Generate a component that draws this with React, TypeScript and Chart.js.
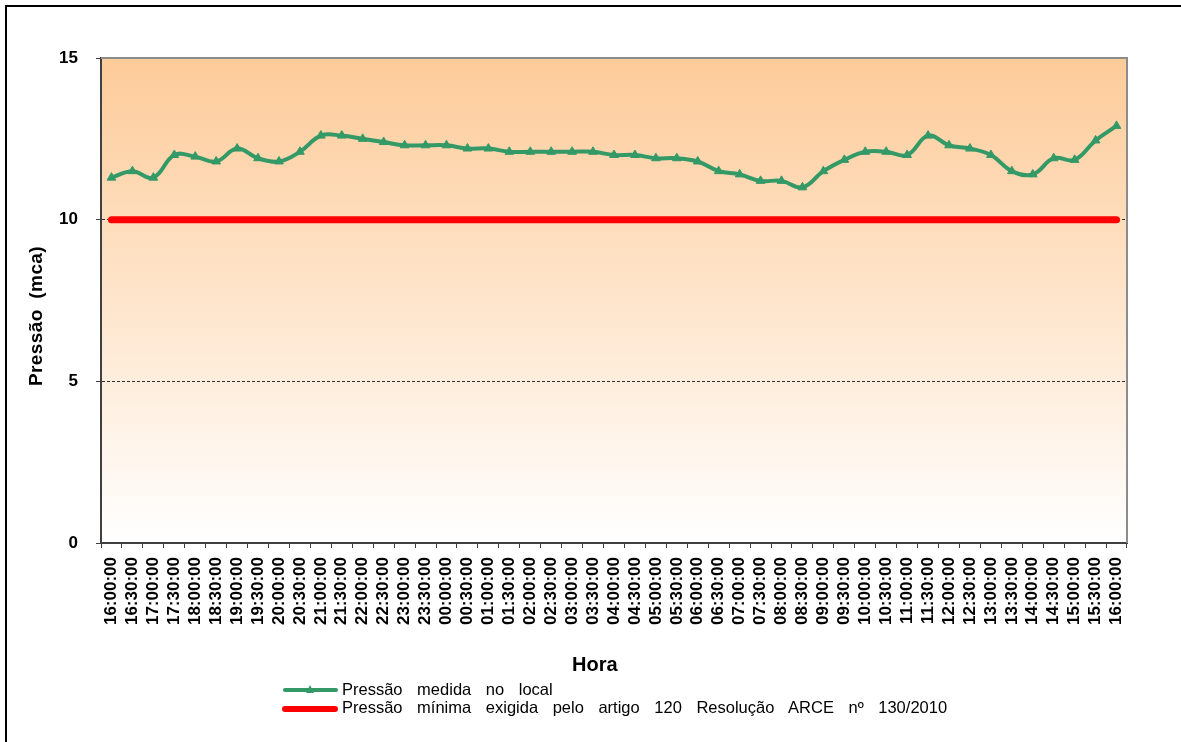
import React, { useEffect, useRef } from "react";
import { Chart, registerables } from "chart.js";

Chart.register(...registerables);

const hourLabels = [
  "16:00:00", "16:30:00", "17:00:00", "17:30:00", "18:00:00", "18:30:00", "19:00:00", "19:30:00",
  "20:00:00", "20:30:00", "21:00:00", "21:30:00", "22:00:00", "22:30:00", "23:00:00", "23:30:00",
  "00:00:00", "00:30:00", "01:00:00", "01:30:00", "02:00:00", "02:30:00", "03:00:00", "03:30:00",
  "04:00:00", "04:30:00", "05:00:00", "05:30:00", "06:00:00", "06:30:00", "07:00:00", "07:30:00",
  "08:00:00", "08:30:00", "09:00:00", "09:30:00", "10:00:00", "10:30:00", "11:00:00", "11:30:00",
  "12:00:00", "12:30:00", "13:00:00", "13:30:00", "14:00:00", "14:30:00", "15:00:00", "15:30:00",
  "16:00:00",
];

const measuredPressure = [
  11.3, 11.5, 11.3, 12.0, 11.95, 11.8, 12.2, 11.9,
  11.8, 12.1, 12.6, 12.6, 12.5, 12.4, 12.3, 12.3,
  12.3, 12.2, 12.2, 12.1, 12.1, 12.1, 12.1, 12.1,
  12.0, 12.0, 11.9, 11.9, 11.8, 11.5, 11.4, 11.2,
  11.2, 11.0, 11.5, 11.85, 12.1, 12.1, 12.0, 12.6,
  12.3, 12.2, 12.0, 11.5, 11.4, 11.9, 11.85, 12.45,
  12.9,
];

const minimumPressure = [
  10, 10, 10, 10, 10, 10, 10, 10,
  10, 10, 10, 10, 10, 10, 10, 10,
  10, 10, 10, 10, 10, 10, 10, 10,
  10, 10, 10, 10, 10, 10, 10, 10,
  10, 10, 10, 10, 10, 10, 10, 10,
  10, 10, 10, 10, 10, 10, 10, 10,
  10,
];

const yTicks = [0, 5, 10, 15];

const measuredLabel = "Pressão medida no local";
const minimumLabel = "Pressão mínima exigida pelo artigo 120 Resolução ARCE nº 130/2010";
const xTitle = "Hora";
const yTitle = "Pressão (mca)";

const FONT = "'Liberation Sans', Arial, sans-serif";

const plotBgPlugin = {
  id: "plotBg",
  beforeDraw(chart: any) {
    const { ctx, chartArea } = chart;
    const { left, top, right, bottom } = chartArea;
    const g = ctx.createLinearGradient(0, top, 0, bottom);
    g.addColorStop(0, "#FDCB99");
    g.addColorStop(1, "#FFFFFF");
    ctx.save();
    ctx.fillStyle = g;
    ctx.fillRect(left, top, right - left, bottom - top);
    ctx.restore();
  },
  beforeDatasetsDraw(chart: any) {
    const { ctx, chartArea } = chart;
    const { left, top, right, bottom } = chartArea;
    ctx.save();
    ctx.strokeStyle = "#8C8C8C";
    ctx.lineWidth = 2;
    ctx.beginPath();
    ctx.moveTo(left, top);
    ctx.lineTo(right, top);
    ctx.lineTo(right, bottom);
    ctx.stroke();
    ctx.restore();
  },
};

export default function App() {
  const canvasRef = useRef<HTMLCanvasElement | null>(null);

  useEffect(() => {
    if (!canvasRef.current) return;
    const chart = new Chart(canvasRef.current, {
      type: "line",
      data: {
        labels: hourLabels,
        datasets: [
          {
            label: minimumLabel,
            data: minimumPressure,
            borderColor: "#FF0000",
            backgroundColor: "#FF0000",
            borderWidth: 7,
            borderCapStyle: "round",
            pointRadius: 0,
            pointHoverRadius: 0,
            tension: 0,
          },
          {
            label: measuredLabel,
            data: measuredPressure,
            borderColor: "#339966",
            backgroundColor: "#339966",
            borderWidth: 4,
            tension: 0.4,
            pointStyle: "triangle",
            pointRadius: 5,
            pointBorderWidth: 1,
            pointBorderColor: "#339966",
            pointBackgroundColor: "#339966",
          },
        ],
      },
      options: {
        animation: false,
        responsive: false,
        maintainAspectRatio: false,
        layout: { padding: { top: 58, right: 54, left: 0, bottom: 0 } },
        plugins: {
          legend: { display: false },
          tooltip: { enabled: false },
        },
        scales: {
          x: {
            type: "category",
            offset: true,
            grid: {
              offset: true,
              drawOnChartArea: false,
              drawTicks: true,
              tickLength: 5,
              color: "#404040",
              tickColor: "#404040",
            },
            border: { color: "#404040", width: 2 },
            ticks: {
              autoSkip: false,
              maxRotation: 90,
              minRotation: 90,
              padding: 9,
              color: "#000000",
              font: { family: FONT, size: 17, weight: "bold" },
            },
            afterFit: (s: any) => {
              s.height = 199;
            },
          },
          y: {
            min: 0,
            max: 15,
            afterBuildTicks: (s: any) => {
              s.ticks = yTicks.map((v) => ({ value: v }));
            },
            ticks: {
              padding: 18,
              color: "#000000",
              font: { family: FONT, size: 17, weight: "bold" },
            },
            grid: {
              color: (c: any) =>
                c.tick && (c.tick.value === 5 || c.tick.value === 10) ? "#303030" : "rgba(0,0,0,0)",
              tickColor: "#404040",
              tickLength: 5,
              lineWidth: 1,
            },
            border: { color: "#404040", width: 2, dash: [3, 2] },
            afterFit: (s: any) => {
              s.width = 101;
            },
          },
        },
      },
      plugins: [plotBgPlugin],
    });
    return () => chart.destroy();
  }, []);

  const textBase: React.CSSProperties = {
    position: "absolute",
    fontFamily: FONT,
    color: "#000",
    whiteSpace: "nowrap",
    margin: 0,
  };

  return (
    <div
      style={{
        position: "absolute",
        left: 0,
        top: 0,
        width: 1181,
        height: 742,
        background: "#FFFFFF",
        overflow: "hidden",
      }}
    >
      <canvas
        ref={canvasRef}
        width={1181}
        height={742}
        style={{ position: "absolute", left: 0, top: 0, width: 1181, height: 742, display: "block" }}
      />
      {/* outer frame (left and top edges) */}
      <div style={{ position: "absolute", left: 5, top: 5, width: 2, height: 737, background: "#000" }} />
      <div style={{ position: "absolute", left: 5, top: 5, width: 1176, height: 2, background: "#000" }} />

      {/* axis titles */}
      <div
        style={{
          ...textBase,
          left: 35.5 - 100,
          top: 316 - 10,
          width: 200,
          height: 20,
          lineHeight: "20px",
          textAlign: "center",
          fontSize: 19,
          fontWeight: "bold",
          wordSpacing: 5,
          letterSpacing: 0.4,
          transform: "rotate(-90deg)",
          transformOrigin: "50% 50%",
        }}
      >
        {yTitle}
      </div>
      <div
        style={{
          ...textBase,
          left: 572,
          top: 654,
          lineHeight: "20px",
          fontSize: 20,
          fontWeight: "bold",
        }}
      >
        {xTitle}
      </div>

      {/* legend */}
      <div style={{ position: "absolute", left: 283, top: 688, width: 55, height: 4, background: "#339966", borderRadius: 2 }} />
      <div
        style={{
          position: "absolute",
          left: 305.5,
          top: 685,
          width: 0,
          height: 0,
          borderLeft: "4.5px solid transparent",
          borderRight: "4.5px solid transparent",
          borderBottom: "8px solid #339966",
        }}
      />
      <div style={{ position: "absolute", left: 282, top: 705.5, width: 56, height: 6, background: "#FF0000", borderRadius: 3 }} />
      <div style={{ ...textBase, left: 342, top: 680, lineHeight: "18px", fontSize: 16.5, wordSpacing: 10 }}>
        {measuredLabel}
      </div>
      <div style={{ ...textBase, left: 342, top: 697.5, lineHeight: "18px", fontSize: 16.5, wordSpacing: 10 }}>
        {minimumLabel}
      </div>
    </div>
  );
}
